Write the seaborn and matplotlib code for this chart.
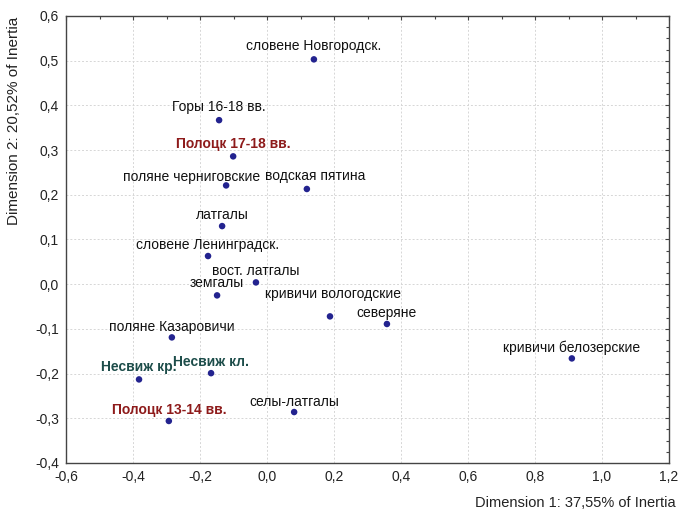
import matplotlib
matplotlib.use("Agg")
import matplotlib.pyplot as plt
from matplotlib.ticker import MultipleLocator, FuncFormatter
import seaborn as sns
import pandas as pd

# Correspondence-analysis coordinates of the populations
names = [
    "словене Новгородск.", "Горы 16-18 вв.", "Полоцк 17-18 вв.",
    "поляне черниговские", "водская пятина", "латгалы",
    "словене Ленинградск.", "вост. латгалы", "земгалы",
    "кривичи вологодские", "северяне", "поляне Казаровичи",
    "Несвиж кр.", "Несвиж кл.", "Полоцк 13-14 вв.",
    "селы-латгалы", "кривичи белозерские",
]
dim1 = [0.140, -0.143, -0.101, -0.122, 0.119, -0.134, -0.176, -0.033, -0.149,
        0.188, 0.358, -0.284, -0.382, -0.167, -0.293, 0.081, 0.910]
dim2 = [0.503, 0.367, 0.286, 0.221, 0.213, 0.130, 0.063, 0.004, -0.025,
        -0.072, -0.089, -0.119, -0.213, -0.199, -0.306, -0.286, -0.166]
# label group: 0 = ordinary, 1 = Полоцк, 2 = Несвиж
groups = [0, 0, 1, 0, 0, 0, 0, 0, 0, 0, 0, 0, 2, 2, 1, 0, 0]
# label offsets from the dot, in pixels
label_dx = [0, 0, 0, -35, 8, 0, 0, 0, 0, 3, 0, 0, 0, 0, 0, 0, 0]
label_dy = [13, 13, 12, 8, 13, 11, 11, 11, 12, 22, 11, 10, 12, 11, 11, 10, 11]

group_color = {0: "#111111", 1: "#8e1b1b", 2: "#1d4d4a"}
group_weight = {0: "normal", 1: "bold", 2: "bold"}

df = pd.DataFrame({"name": names, "d1": dim1, "d2": dim2, "grp": groups})

sns.set_style("white")
plt.rcParams["font.family"] = ["Liberation Sans", "DejaVu Sans"]

fig = plt.figure(figsize=(6.82, 5.12), dpi=100)
ax = fig.add_axes([66 / 682, 1 - 463 / 512, (669 - 66) / 682, (463 - 16) / 512])

sns.scatterplot(data=df, x="d1", y="d2", ax=ax, color="#23238f", s=22,
                edgecolor="none", zorder=3)

for i, row in df.iterrows():
    ax.annotate(row["name"], (row["d1"], row["d2"]),
                xytext=(label_dx[i], label_dy[i]), textcoords="offset pixels",
                ha="center", va="center", fontsize=10,
                color=group_color[row["grp"]],
                fontweight=group_weight[row["grp"]], zorder=4)

ax.set_xlim(-0.6, 1.2)
ax.set_ylim(-0.4, 0.6)
ax.xaxis.set_major_locator(MultipleLocator(0.2))
ax.xaxis.set_minor_locator(MultipleLocator(0.1))
ax.yaxis.set_major_locator(MultipleLocator(0.1))
ax.yaxis.set_minor_locator(MultipleLocator(0.025))

comma = FuncFormatter(lambda v, p: f"{v:.1f}".replace(".", ",").replace("-0,0", "0,0"))
ax.xaxis.set_major_formatter(comma)
ax.yaxis.set_major_formatter(comma)

ax.tick_params(which="both", direction="in", top=True, right=True,
               color="#444444", width=0.8)
ax.tick_params(which="major", length=3, labelsize=10, labelcolor="#222222", pad=5)
ax.tick_params(which="minor", length=2.5)

ax.grid(True, which="major", linestyle=(0, (2, 2)), color="#d6d6d6", linewidth=0.7)
ax.set_axisbelow(True)
for sp in ax.spines.values():
    sp.set_color("#444444")
    sp.set_linewidth(1.0)

ax.set_xlabel("")
ax.set_ylabel("")
fig.text(676 / 682, 1 - 503 / 512, "Dimension 1: 37,55% of Inertia",
         ha="right", va="center", fontsize=10.5, color="#222222")
fig.text(14 / 682, 1 - 121 / 512, "Dimension 2: 20,52% of Inertia",
         ha="center", va="center", rotation=90, fontsize=11, color="#222222")

fig.savefig("out.png", dpi=100)
